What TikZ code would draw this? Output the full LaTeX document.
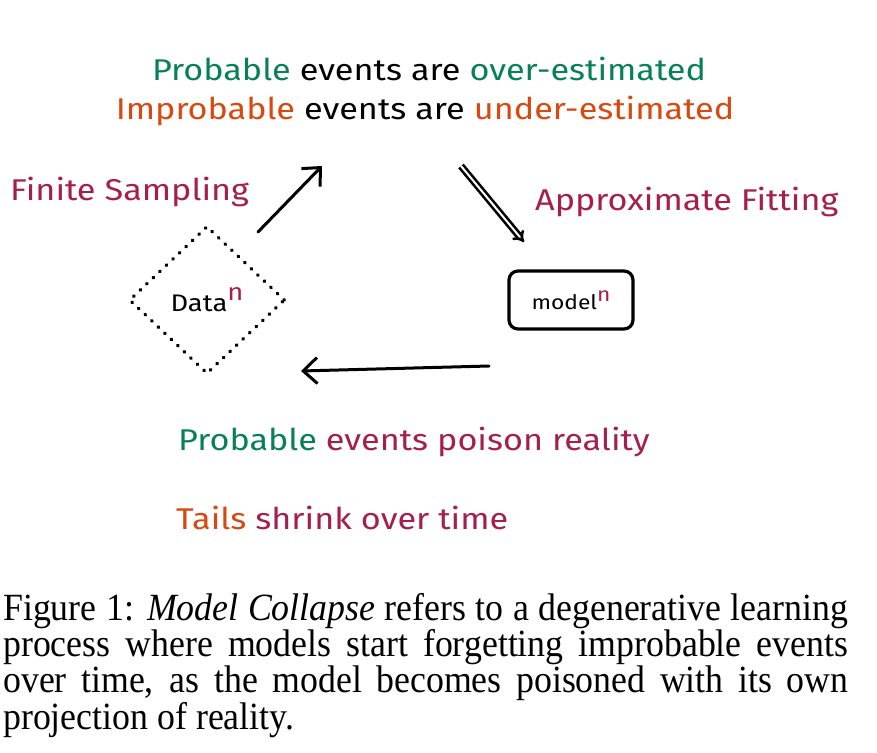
\documentclass[tikz,border=0pt]{standalone}
\usepackage{fontspec}
\setmainfont{Liberation Serif}
\newfontfamily\hand[FakeStretch=1.14]{Fira Sans}
\newfontfamily\capfont[FakeStretch=0.93]{Liberation Serif}
\usetikzlibrary{shapes.geometric,arrows.meta}
\definecolor{cgreen}{HTML}{087F5B}
\definecolor{corange}{HTML}{D9480F}
\definecolor{cpurple}{HTML}{A61E4D}
\tikzset{
  big/.style={font=\hand\fontsize{30}{36}\selectfont, inner sep=0pt, anchor=base west},
  flow/.style={line width=3pt, line cap=round, -{Straight Barb[length=14pt,width=26pt,line width=3pt]}},
  dflow/.style={double, double distance=2pt, line width=2.6pt, -{Implies}},
}
\newcommand{\supn}[1]{\raisebox{#1}{\textcolor{cpurple}{n}}}
\begin{document}
\begin{tikzpicture}[x=1pt,y=-1pt]
\useasboundingbox (0,0) rectangle (877,752);
% top text
\node[big, anchor=base] (t1) at (429,80) {\textcolor{cgreen}{Probable} events are \textcolor{cgreen}{over-estimated}};
\node[big, anchor=base] (t2) at (425,119) {\textcolor{corange}{Improbable} events are \textcolor{corange}{under-estimated}};
% side labels
\node[big, text=cpurple] (fs) at (10,200) {Finite Sampling};
\node[big, text=cpurple] (af) at (535,210) {Approximate Fitting};
% bottom labels
\node[big] (b1) at (178,450) {\textcolor{cgreen}{Probable} \textcolor{cpurple}{events poison reality}};
\node[big] (b2) at (176,529) {\textcolor{corange}{Tails} \textcolor{cpurple}{shrink over time}};
% data diamond
\node[diamond, draw, line width=3.6pt, line cap=round, dash pattern=on 0.6pt off 8.4pt,
      minimum width=156pt, minimum height=148pt, inner sep=0pt,
      font=\hand\fontsize{24}{28}\selectfont] (data) at (207,300)
      {Data\supn{11pt}};
% model box
\node[draw, line width=3.2pt, rounded corners=9pt, minimum width=124pt, minimum height=58pt,
      inner sep=0pt, font=\hand\fontsize{20}{24}\selectfont] (model) at (571,300) {model\supn{8pt}};
% arrow ends
\coordinate (a1s) at (258,232);
\coordinate (a1e) at (322,166);
\coordinate (a2s) at (461,166);
\coordinate (a2e) at (524,242);
\coordinate (a3s) at (489,366);
\coordinate (a3e) at (301,371);
\draw[flow] (a1s) -- (a1e);
\draw[dflow] (a2s) -- (a2e);
\draw[flow] (a3s) -- (a3e);
% caption
\node[anchor=north west, inner sep=0pt, text width=845pt, align=justify,
      font=\capfont\fontsize{38.5}{34.5}\selectfont] (cap) at (3,593)
  {Figure 1: \textit{Model Collapse} refers to a degenerative learning\linebreak
   process where models start forgetting improbable events\linebreak
   over time, as the model becomes poisoned with its own\linebreak
   projection of reality.};
\end{tikzpicture}
\end{document}
